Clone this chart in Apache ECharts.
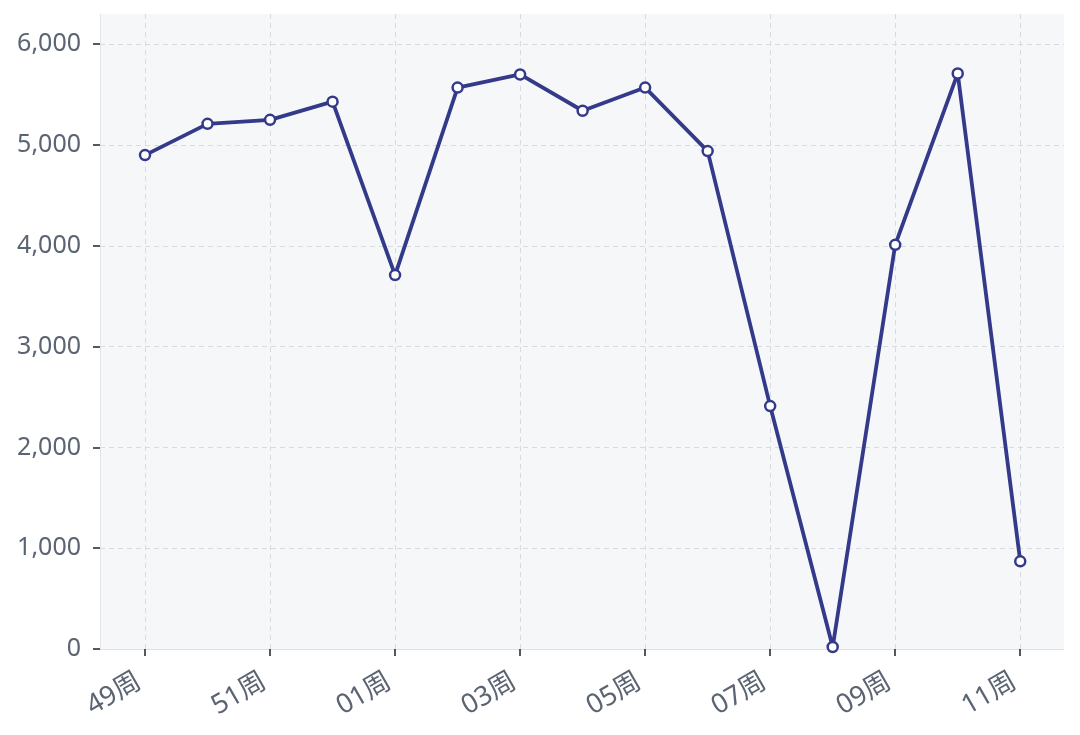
<!DOCTYPE html>
<html><head><meta charset="utf-8">
<script src="https://cdn.jsdelivr.net/npm/echarts@6/dist/echarts.min.js"></script>
<style>html,body{margin:0;padding:0;background:#fff}#c{width:1080px;height:735px}</style>
</head><body><div id="c"></div>
<script>
const categories = ['49周','50周','51周','52周','01周','02周','03周','04周','05周','06周','07周','08周','09周','10周','11周'];
const values = [4900, 5210, 5250, 5430, 3710, 5570, 5700, 5340, 5570, 4940, 2410, 20, 4010, 5710, 870];
const labelIdx = [0, 2, 4, 6, 8, 10, 12, 14];
const yTicks = [0, 1000, 2000, 3000, 4000, 5000, 6000];

const chart = echarts.init(document.getElementById('c'), null, {renderer: 'canvas'});
const font = '"Noto Sans", "Noto Sans CJK SC", sans-serif';
chart.setOption({
  animation: false,
  grid: {left: 100, right: 16, top: 14, bottom: 86, show: true, backgroundColor: '#f6f7f9', borderWidth: 0},
  xAxis: {
    type: 'value', min: -0.72, max: 14.7,
    axisLine: {show: true, onZero: false, lineStyle: {color: '#dfe1e5', width: 1}},
    axisTick: {show: true, customValues: labelIdx, length: 7, lineStyle: {color: '#222', width: 1.5}},
    axisLabel: {customValues: labelIdx, formatter: v => categories[Math.round(v)] || '', rotate: 30,
      color: '#5b6472', fontSize: 27, fontFamily: font, margin: 27, padding: [0, 7, 0, 0]},
    splitLine: {show: true, lineStyle: {color: '#d9dbe0', type: [5, 4], width: 1}}
  },
  yAxis: {
    type: 'value', min: 0, max: 6300, interval: 1000,
    axisLine: {show: true, onZero: false, lineStyle: {color: '#e3e5e8'}},
    axisTick: {show: true, customValues: yTicks, length: 7, lineStyle: {color: '#222', width: 1.5}},
    axisLabel: {customValues: yTicks, color: '#5b6472', fontSize: 25, fontFamily: font, margin: 19,
      formatter: v => v.toLocaleString('en-US')},
    splitLine: {show: true, lineStyle: {color: '#d9dbe0', type: [5, 4], width: 1}}
  },
  series: [{
    type: 'line',
    data: values.map((v, i) => [i, v]),
    symbol: 'circle', symbolSize: 10,
    itemStyle: {color: '#fff', borderColor: '#343a8a', borderWidth: 2.5},
    lineStyle: {color: '#343a8a', width: 3.8},
    clip: false
  }]
});
</script></body></html>
